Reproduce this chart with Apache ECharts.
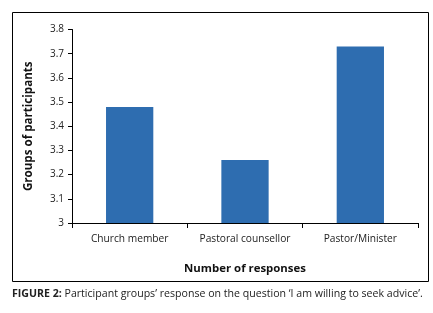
<!DOCTYPE html>
<html lang="en">
<head>
    <meta charset="UTF-8">
    <title>Figure 2</title>
    <script src="https://cdn.jsdelivr.net/npm/echarts@6/dist/echarts.min.js"></script>
    <style>
        body { margin: 0; background: #fff; }
        #main { width: 433px; height: 313px; }
    </style>
</head>
<body>
    <div id="main"></div>
    <script type="text/javascript">
        var groups = ['Church member', 'Pastoral counsellor', 'Pastor/Minister'];
        var scores = [3.48, 3.26, 3.73];

        var font = '"Open Sans", "Liberation Sans", sans-serif';
        var myChart = echarts.init(document.getElementById('main'));

        var option = {
            animation: false,
            textStyle: { fontFamily: font },
            grid: { left: 72, right: 15, top: 29.5, bottom: 90, containLabel: false },
            graphic: [
                {
                    type: 'rect',
                    shape: { x: 12.5, y: 12.5, width: 416, height: 269 },
                    style: { fill: 'none', stroke: '#000', lineWidth: 1 },
                    silent: true
                },
                {
                    type: 'text',
                    left: 12, top: 288,
                    style: {
                        text: '{b|FIGURE 2:} Participant groups\u2019 response on the question \u2018I am willing to seek advice\u2019.',
                        font: '10.6px ' + font,
                        fill: '#222',
                        rich: {
                            b: { fontWeight: 'bold', fontSize: 10.6, fontFamily: font, fill: '#222' }
                        }
                    }
                }
            ],
            xAxis: {
                type: 'category',
                data: groups,
                name: 'Number of responses',
                nameLocation: 'middle',
                nameGap: 40,
                nameTextStyle: { fontWeight: 'bold', fontSize: 11.4, color: '#111' },
                axisLine: { lineStyle: { color: '#000', width: 1 } },
                axisTick: { show: true, alignWithLabel: false, length: 5, lineStyle: { color: '#000' } },
                axisLabel: { interval: 0, hideOverlap: false, fontSize: 10.2, color: '#222', margin: 11 }
            },
            yAxis: {
                type: 'value',
                min: 3,
                max: 3.8,
                interval: 0.1,
                name: 'Groups of participants',
                nameLocation: 'middle',
                nameGap: 37,
                nameTextStyle: { fontWeight: 'bold', fontSize: 11.6, color: '#111' },
                axisLine: { show: true, lineStyle: { color: '#000', width: 1 } },
                axisTick: { show: true, length: 4, lineStyle: { color: '#000' } },
                splitLine: { show: false },
                axisLabel: {
                    fontSize: 10, color: '#222', margin: 8,
                    formatter: function (v) { return +v.toFixed(1) + ''; }
                }
            },
            series: [{
                type: 'bar',
                data: scores,
                barWidth: '41%',
                itemStyle: { color: '#2E6DB0' }
            }]
        };

        myChart.setOption(option);
    </script>
</body>
</html>
